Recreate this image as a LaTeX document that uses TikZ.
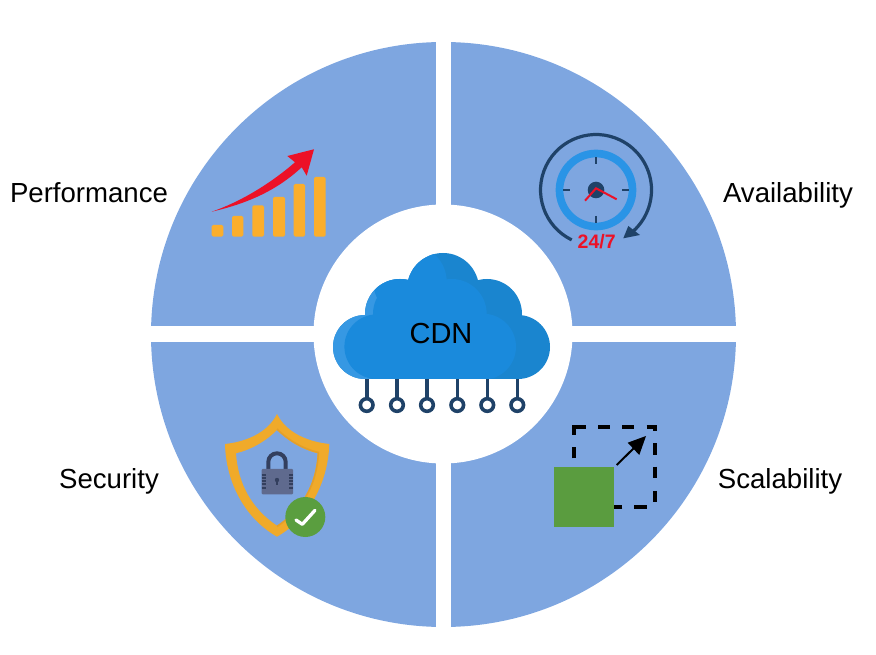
\documentclass[tikz,border=0pt]{standalone}
\usepackage{fontspec}
\setmainfont{Liberation Sans}
\definecolor{wheelblue}{HTML}{7EA6E0}
\definecolor{clouddark}{HTML}{1A85CF}
\definecolor{cloudmain}{HTML}{1A8ADC}
\definecolor{cloudrim}{HTML}{3698E3}
\definecolor{navy}{HTML}{1F4268}
\definecolor{barorange}{HTML}{FBAE2C}
\definecolor{arrowred}{HTML}{EC1127}
\definecolor{ringblue}{HTML}{2A94E6}
\definecolor{shieldgold}{HTML}{F0AA2A}
\definecolor{shielddark}{HTML}{E39F2A}
\definecolor{lockgray}{HTML}{5F6A8E}
\definecolor{lockdark}{HTML}{333F5E}
\definecolor{checkgreen}{HTML}{5A9E3F}
\definecolor{boxgreen}{HTML}{5A9C3F}
\tikzset{
  wheellabel/.style={anchor=base,inner sep=0pt,font=\fontsize{27.6}{30}\selectfont},
  chartbar/.style={fill=barorange,rounded corners=1.5},
  clocktick/.style={draw=navy,line width=2},
  scaledash/.style={draw=black,line width=4},
  pinline/.style={draw=navy,line width=3.6,fill=white}
}
\newcommand{\cloudoutline}{(365,307) circle (32) (518,307) circle (32) (400,340) circle (35) (487,340) circle (35) (443,365) circle (36) (365,275) -- (518,275) -- (518,340) -- (365,340) -- cycle}
\begin{document}
\begin{tikzpicture}[x=1pt,y=1pt]
\useasboundingbox (0,0) rectangle (876,654);

% wheel
\fill[wheelblue] (443.5,319.5) circle (292.5);
\fill[white] (436,20) rectangle (451,620);
\fill[white] (145,312) rectangle (742,328);
\fill[white] (443,320) circle (129.5);

% cloud
\foreach \pinx in {366.7,397,427,457.3,487.3,517.3} {
  \draw[navy,line width=3.6] (\pinx,280) -- (\pinx,255);
  \draw[pinline] (\pinx,249) circle (6.3);
}
\fill[clouddark] \cloudoutline;
\begin{scope}
\clip \cloudoutline;
\fill[cloudrim] (365,307) circle (32) (400,340) circle (35);
\fill[cloudmain] (410,372.3) circle (36.7) (408,340) circle (35) (376.7,307.3) circle (32.3) (451.7,340) circle (35) (483,307.3) circle (33) (376,275) -- (483,275) -- (483,340) -- (376,340) -- cycle;
\end{scope}
\node[wheellabel,font=\fontsize{29}{30}\selectfont] (cdn) at (441,310) {CDN};

% performance
\fill[chartbar] (211.7,417.3) rectangle (223.3,429);
\fill[chartbar] (232,417.3) rectangle (243.3,438);
\fill[chartbar] (252.3,417.3) rectangle (264,448.7);
\fill[chartbar] (273,417.3) rectangle (285,457);
\fill[chartbar] (293.7,417.3) rectangle (305,470);
\fill[chartbar] (314,417.3) rectangle (325.7,477);
\fill[arrowred] (211.7,442.3) .. controls (240,452) and (270,470) .. (295,491.7) -- (287.3,498) -- (314,504.7) -- (306.7,478.3) -- (301.7,486.7) .. controls (275,462) and (245,450) .. cycle;
\node[wheellabel] (perf) at (89,451) {Performance};

% availability
\draw[ringblue,line width=7.7] (596,464) circle (36.5);
\draw[clocktick] (596,496.7) -- (596,490);
\draw[clocktick] (596,438) -- (596,430.7);
\draw[clocktick] (563.3,464) -- (570,464);
\draw[clocktick] (622.3,464) -- (629.3,464);
\fill[navy] (596,464) circle (8.3);
\draw[arrowred,line width=2] (585,453.3) -- (596,465.7) -- (616.7,454.7);
\draw[navy,line width=3.2] (571.7,414.1) arc (244:-47:55.5);
\fill[navy] (623.3,415.7) -- (628.3,428) -- (640,419) -- cycle;
\node[wheellabel,font=\fontsize{19.5}{20}\selectfont\bfseries,text=arrowred] (clockhours) at (596.7,405.5) {24/7};
\node[wheellabel] (avail) at (788,451) {Availability};

% security
\fill[shieldgold,even odd rule] (277,240) .. controls (287,220) and (310,212) .. (329.3,210) .. controls (328,170) and (308,135) .. (277,117.3) .. controls (246,135) and (226,170) .. (225,210) .. controls (244,212) and (267,220) .. cycle
  (277,224) .. controls (265,212) and (250,204) .. (236,200.7) .. controls (238,170) and (252,145) .. (277,128.3) .. controls (302,145) and (316,170) .. (317.7,200.7) .. controls (304,204) and (289,212) .. cycle;
\draw[shielddark,line width=1.5] (277,225) .. controls (289,213) and (304,205) .. (318.4,201.5) .. controls (317,170) and (303,145) .. (277,127.5);
\draw[lockdark,line width=4] (268.3,185) -- (268.3,192) arc (180:0:8.7) -- (285.7,185);
\fill[lockgray,rounded corners=1] (261.7,159.7) rectangle (293,185);
\fill[lockdark] (277,174) circle (2.2);
\fill[lockdark] (276,174) rectangle (278,168.5);
\foreach \teethy in {179,176,173,170,166} {
  \draw[lockdark,line width=1.1] (261.7,\teethy) -- (265.7,\teethy);
  \draw[lockdark,line width=1.1] (289,\teethy) -- (293,\teethy);
}
\fill[checkgreen] (305.3,137) circle (20);
\draw[white,line width=3.3,line cap=round,line join=round] (296,134) -- (302.3,129.7) -- (315,143.7);
\node[wheellabel] (secur) at (109,165) {Security};

% scalability
\draw[scaledash] (574.3,195.7) -- (574.3,206.7);
\draw[scaledash] (574.3,219) -- (574.3,227.3) -- (586,227.3);
\draw[scaledash] (598.3,227.3) -- (610,227.3);
\draw[scaledash] (622.3,227.3) -- (634.3,227.3);
\draw[scaledash] (646.7,227.3) -- (655,227.3) -- (655,223.3);
\draw[scaledash] (655,210.7) -- (655,199);
\draw[scaledash] (655,187.3) -- (655,175.7);
\draw[scaledash] (655,163) -- (655,151.7);
\draw[scaledash] (646.7,147.3) -- (634.3,147.3);
\draw[scaledash] (622.3,147.3) -- (610,147.3);
\fill[boxgreen] (554.3,127) rectangle (614.3,187.3);
\draw[black,line width=2] (616.7,189) -- (636,208);
\fill[black] (646,218) -- (627.7,211.3) -- (639.3,199) -- cycle;
\node[wheellabel] (scale) at (780,165) {Scalability};
\end{tikzpicture}
\end{document}
